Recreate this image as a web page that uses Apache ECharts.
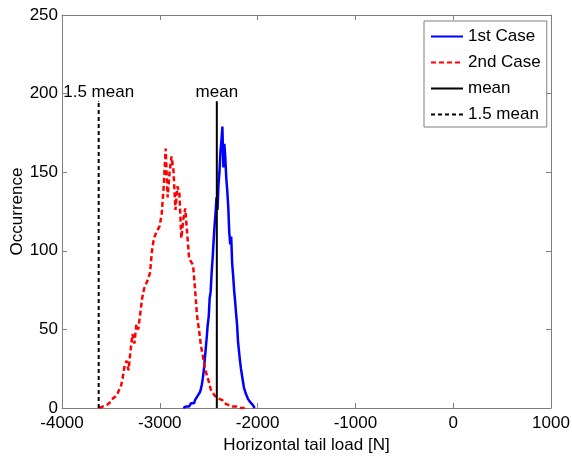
<!DOCTYPE html>
<html>
<head>
<meta charset="utf-8">
<script src="https://cdn.jsdelivr.net/npm/echarts@6/dist/echarts.min.js"></script>
<style>
  html, body { margin: 0; padding: 0; background: #fff; }
  #main { width: 572px; height: 456px; }
</style>
</head>
<body>
<div id="main"></div>
<script>
// 1st Case histogram (load [N] -> occurrence)
var caseOneX = [-2760, -2750, -2740, -2730, -2720, -2710, -2700, -2690, -2680, -2670,
  -2660, -2650, -2640, -2630, -2620, -2610, -2600, -2590, -2580, -2570,
  -2560, -2550, -2540, -2530, -2520, -2510, -2500, -2490, -2480, -2470,
  -2460, -2450, -2440, -2430, -2420, -2410, -2400, -2390, -2380, -2370,
  -2360, -2350, -2340, -2330, -2320, -2310, -2300, -2290, -2280, -2270,
  -2260, -2250, -2240, -2230, -2220, -2210, -2200, -2190, -2180, -2170,
  -2160, -2150, -2140, -2130, -2120, -2110, -2100, -2090, -2080, -2070,
  -2060, -2050, -2040, -2030];
var caseOneY = [0, 1, 0, 1, 1, 2, 1, 2, 3, 2,
  4, 3, 5, 6, 5, 8, 7, 10, 12, 15,
  19, 24, 31, 38, 45, 53, 58, 70, 74, 86,
  95, 106, 116, 124, 134, 126, 142, 150, 163, 170,
  179, 153, 168, 159, 146, 138, 128, 112, 104, 109,
  92, 84, 75, 68, 60, 53, 42, 36, 30, 25,
  21, 17, 13, 11, 9, 8, 6, 7, 4, 5,
  3, 2, 1, 0];

// 2nd Case histogram
var caseTwoX = [-3620, -3600, -3580, -3560, -3540, -3520, -3500, -3480, -3460,
  -3440, -3420, -3400, -3380, -3360, -3340, -3320, -3300, -3280, -3260,
  -3240, -3220, -3200, -3180, -3160, -3140, -3120, -3100, -3080, -3060,
  -3040, -3020, -3000, -2980, -2960, -2940, -2920, -2900, -2880, -2860,
  -2840, -2820, -2800, -2780, -2760, -2740, -2720, -2700, -2680, -2660,
  -2640, -2620, -2600, -2580, -2560, -2540, -2520, -2500, -2480, -2460,
  -2440, -2420, -2400, -2380, -2360, -2340, -2320, -2300, -2280, -2260,
  -2240, -2220, -2200, -2180, -2160, -2140, -2120];
var caseTwoY = [0, 1, 1, 2, 2, 3, 4, 6, 5,
  8, 11, 13, 19, 27, 30, 24, 36, 47, 41,
  53, 50, 60, 70, 76, 79, 82, 86, 100, 108,
  111, 112, 116, 124, 141, 165, 134, 150, 160, 151,
  126, 141, 137, 108, 120, 127, 111, 95, 93, 91,
  76, 59, 50, 40, 33, 26, 21, 17, 12, 10,
  8, 7, 6, 5, 5, 3, 3, 2, 2, 1,
  1, 1, 1, 0, 1, 0, 0];

var meanLoad = -2417;
var oneHalfMean = -3625;
var markerTop = 195;

var xTicks = { min: -4000, max: 1000, step: 1000 };
var yTicks = { min: 0, max: 250, step: 50 };

function pairs(xs, ys) {
  var out = [];
  for (var i = 0; i < xs.length; i++) out.push([xs[i], ys[i]]);
  return out;
}

// vertical marker line, text sits on top of it
function markerLine(x, text) {
  return [
    { value: [x, 0], symbol: 'none' },
    {
      value: [x, markerTop], symbol: 'circle', symbolSize: 1,
      label: { show: true, position: 'top', distance: 0, formatter: text, color: '#000', fontSize: 17 }
    }
  ];
}

var font = '"Liberation Sans", Arial, sans-serif';
var boxColor = '#808080';

function plainNumber(v) { return String(v); }

function xAxisOf(pos, showLabel) {
  return {
    type: 'value', position: pos,
    min: xTicks.min, max: xTicks.max, interval: xTicks.step,
    name: showLabel ? 'Horizontal tail load [N]' : '',
    nameLocation: 'middle', nameGap: 29, nameMoveOverlap: false,
    nameTextStyle: { color: '#000', fontSize: 17 },
    axisLine: { show: true, onZero: false, lineStyle: { color: boxColor, width: 1 } },
    axisTick: { show: true, inside: true, length: 5, lineStyle: { color: boxColor } },
    axisLabel: { show: showLabel, color: '#000', fontSize: 17, margin: 7, formatter: plainNumber },
    splitLine: { show: false }
  };
}

function yAxisOf(pos, showLabel) {
  return {
    type: 'value', position: pos,
    min: yTicks.min, max: yTicks.max, interval: yTicks.step,
    name: showLabel ? 'Occurrence' : '',
    nameLocation: 'middle', nameGap: 36, nameMoveOverlap: false,
    nameTextStyle: { color: '#000', fontSize: 17 },
    axisLine: { show: true, onZero: false, lineStyle: { color: boxColor, width: 1 } },
    axisTick: { show: true, inside: true, length: 5, lineStyle: { color: boxColor } },
    axisLabel: { show: showLabel, color: '#000', fontSize: 17, margin: 4, formatter: plainNumber },
    splitLine: { show: false }
  };
}

var myChart = echarts.init(document.getElementById('main'), null, { renderer: 'canvas' });

var option = {
  animation: false,
  backgroundColor: '#fff',
  textStyle: { fontFamily: font },
  grid: { left: 62, top: 15, width: 489, height: 393, containLabel: false, outerBoundsMode: 'none' },
  legend: {
    orient: 'vertical',
    left: 424, top: 21,
    padding: [7, 6, 4, 6],
    itemWidth: 32, itemHeight: 14, itemGap: 9,
    backgroundColor: '#fff',
    borderColor: boxColor, borderWidth: 1, borderRadius: 0,
    itemStyle: { color: 'transparent', borderWidth: 0, opacity: 0 },
    textStyle: { color: '#000', fontSize: 17, fontFamily: font },
    data: ['1st Case', '2nd Case', 'mean', '1.5 mean']
  },
  xAxis: [xAxisOf('bottom', true), xAxisOf('top', false)],
  yAxis: [yAxisOf('left', true), yAxisOf('right', false)],
  series: [
    {
      name: '1st Case', type: 'line', symbol: 'none',
      lineStyle: { color: '#0000ff', width: 2.5 },
      itemStyle: { color: '#0000ff' },
      data: pairs(caseOneX, caseOneY)
    },
    {
      name: '2nd Case', type: 'line', symbol: 'none',
      lineStyle: { color: '#ff0000', width: 2.5, type: [5, 3] },
      itemStyle: { color: '#ff0000' },
      data: pairs(caseTwoX, caseTwoY)
    },
    {
      name: 'mean', type: 'line', showSymbol: true,
      lineStyle: { color: '#000', width: 2 },
      itemStyle: { color: '#000' },
      data: markerLine(meanLoad, 'mean')
    },
    {
      name: '1.5 mean', type: 'line', showSymbol: true,
      lineStyle: { color: '#000', width: 2, type: [4, 3] },
      itemStyle: { color: '#000' },
      data: markerLine(oneHalfMean, '1.5 mean')
    }
  ]
};

myChart.setOption(option);
</script>
</body>
</html>
